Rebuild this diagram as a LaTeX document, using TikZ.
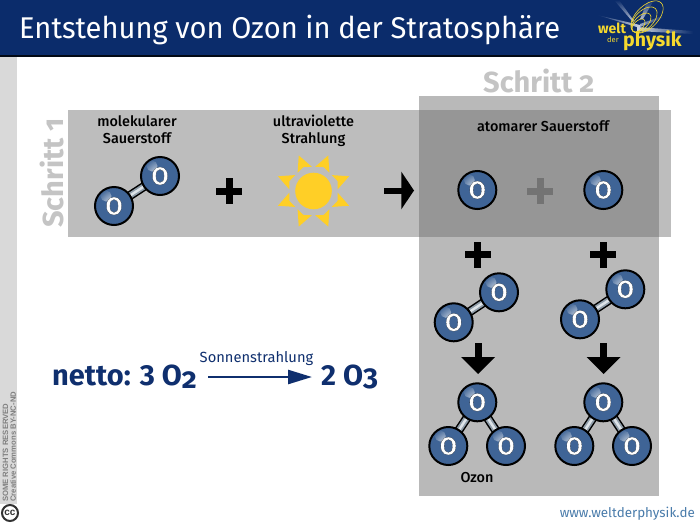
\documentclass[tikz,border=0pt]{standalone}
\usepackage{fontspec}
\setmainfont{Fira Sans}
\newfontfamily\medfont{Fira Sans Medium}
\newfontfamily\oldbold[Numbers=OldStyle]{Fira Sans Bold}
\newfontfamily\linebold[Numbers=Lining]{Fira Sans Bold}
\newfontfamily\titlefont[FakeStretch=0.97]{Fira Sans}
\newfontfamily\atomfont[FakeBold=0.3]{Fira Sans Medium}
\newfontfamily\ccfont{Liberation Sans}
\usetikzlibrary{arrows.meta}
\definecolor{navy}{HTML}{0B2C6B}
\definecolor{navytext}{HTML}{0F2F6E}
\definecolor{panelA}{HTML}{BDBDBD}
\definecolor{panelB}{HTML}{B9B9B9}
\definecolor{overlap}{HTML}{969696}
\definecolor{steptext}{HTML}{C4C4C4}
\definecolor{atomblue}{HTML}{3F6496}
\definecolor{sunyellow}{HTML}{FFCF26}
\definecolor{logoyellow}{HTML}{F5D92E}
\definecolor{footblue}{HTML}{4A7CAB}
\definecolor{bondgrey}{HTML}{8E9CA8}
\definecolor{bondlight}{HTML}{DDE3E8}
\pgfdeclarelayer{panel}
\pgfdeclarelayer{bond}
\pgfsetlayers{panel,bond,main}
\newcommand{\oxy}{{\color{white}\special{pdf:code 0 0 0 RG}O}}
\tikzset{
  atom/.style={circle,draw=black,line width=2pt,fill=atomblue,minimum size=38pt,inner sep=0pt,
    font=\atomfont\fontsize{25}{25}\selectfont,
    path picture={
      \shade[inner color=white,outer color=atomblue,opacity=.95] ([xshift=-8pt,yshift=10pt]path picture bounding box.center) circle (5.5pt);}},
  bondouter/.style={draw=black,line width=9pt},
  bondinner/.style={draw=bondgrey,line width=6pt},
  bondshine/.style={draw=bondlight,line width=2.5pt},
  lbl/.style={align=center,inner sep=0pt,text=black,font=\medfont\fontsize{14.4}{17}\selectfont},
  ray/.style={fill=sunyellow},
  logot/.style={text=logoyellow,inner sep=0pt,anchor=base west},
  stepstyle/.style={inner sep=0pt,text=steptext,font=\oldbold\fontsize{29}{29}\selectfont},
  eqstyle/.style={anchor=base west,inner sep=0pt,text=navytext,font=\linebold\fontsize{29}{29}\selectfont},
  ccstyle/.style={rotate=90,anchor=west,inner sep=0pt,text=black!50,font=\ccfont\bfseries\fontsize{7.7}{8}\selectfont}
}
\newcommand{\bondline}[2]{\begin{pgfonlayer}{bond}
  \path[bondouter] (#1.center) -- (#2.center);
  \path[bondinner] (#1.center) -- (#2.center);
  \path[bondshine] (#1.center) -- (#2.center);
\end{pgfonlayer}}
\newcommand{\plussign}[3][black]{\fill[#1] (#2-13,#3-3.5) rectangle (#2+13,#3+3.5);\fill[#1] (#2-3.5,#3-13) rectangle (#2+3.5,#3+13);}
\newcommand{\downarr}[2]{\fill[black] (#1-3.5,#2) rectangle (#1+3.5,#2+16);\fill[black] (#1-17,#2+14) -- (#1+17,#2+14) -- (#1,#2+31) -- cycle;}
\begin{document}
\begin{tikzpicture}[x=1pt,y=-1pt]
\useasboundingbox (0,0) rectangle (700,525);
\begin{pgfonlayer}{panel}
\fill[white] (0,0) rectangle (700,525);
\fill[navy] (0,0) rectangle (700,55);
\fill[black!80!navy] (0,54.5) rectangle (700,56.5);
\fill[black!15] (0,57) rectangle (17,504);
\fill[panelA] (68,110) rectangle (671,237);
\fill[panelB] (419,96) rectangle (659,496);
\fill[overlap] (419,110) rectangle (659,237);
\end{pgfonlayer}

% header
\node[anchor=base west,inner sep=0pt,text=white,font=\titlefont\fontsize{30}{30}\selectfont] (title) at (19,38) {Entstehung von Ozon in der Stratosphäre};

% logo
\shade[left color=navy,right color=white!80!navy] (597,15) -- (640,25) -- (640,28) -- cycle;
\shade[top color=navy,bottom color=white!70!navy] (614,0) -- (619,0) -- (634,21) -- (632,21) -- cycle;
\shade[top color=navy,bottom color=white!70!navy] (648,0) -- (654,0) -- (643,19) -- (640,19) -- cycle;
\shade[left color=white!80!navy,right color=navy] (637,27) -- (693,31) -- (693,34) -- (637,31) -- cycle;
\shade[left color=white!60!navy,right color=navy] (640,24) -- (662,16) -- (663,18) -- (640,27) -- cycle;
\begin{scope}[logoyellow,line width=.6pt,rotate around={45:(647,17)}]
\draw (647,17) ellipse (20 and 11);
\draw (643,17) ellipse (16 and 9);
\draw (639,17) ellipse (12 and 6.5);
\draw (635,17) ellipse (8 and 4.5);
\end{scope}
\node[logot,font=\bfseries\fontsize{14}{14}\selectfont] (lw) at (598,33) {welt};
\node[logot,font=\fontsize{7.5}{8}\selectfont] (ld) at (607,42) {der};
\node[logot,font=\bfseries\fontsize{19.5}{20}\selectfont] (lp) at (623,46.7) {physik};

% side strip
\node[ccstyle] (cc1) at (5.5,502) {SOME RIGHTS RESERVED};
\node[ccstyle] (cc2) at (13,502) {Creative Commons BY-NC-ND};
\node[circle,draw=black!80,line width=2pt,fill=white,minimum size=16pt,inner sep=0pt,text=black!80,font=\ccfont\bfseries\fontsize{10}{10}\selectfont] (cc) at (10,513) {cc};

% step labels
\node[anchor=base west,stepstyle] (s2) at (483,92) {Schritt 2};
\node[rotate=90,anchor=base west,stepstyle] (s1) at (63,228) {Schritt 1};

% labels
\node[lbl] (l1) at (137,130) {molekularer\\Sauerstoff};
\node[lbl] (l2) at (313.5,131) {ultraviolette\\Strahlung};
\node[lbl] (l3) at (543,126) {atomarer Sauerstoff};
\node[lbl] (l4) at (477,478) {Ozon};

% molecule step 1
\node[atom] (a1) at (114,206) {\oxy};
\node[atom] (a2) at (160,176) {\oxy};
\bondline{a1}{a2}

% plus, sun, arrow
\plussign{229}{191}
\fill[sunyellow] (313.5,191) circle (18.3);
\foreach \ang in {22.5,67.5,...,337.5}{
  \fill[ray,rotate around={\ang:(313.5,191)}] (336.5,183.3) -- (352,191) -- (336.5,198.7) -- (339.5,191) -- cycle;
}
\fill[black] (384,187.5) rectangle (404,193.5);
\fill[black] (401.3,171.7) -- (414,190.5) -- (401.3,209.3) -- cycle;

% free atoms
\node[atom] (a3) at (477.3,190) {\oxy};
\plussign[black!55]{540}{191}
\node[atom] (a4) at (603.3,190) {\oxy};

% plus
\plussign{477.7}{254.7}
\plussign{603}{254.7}

% O2 pair
\node[atom] (a5) at (453.7,322.3) {\oxy};
\node[atom] (a6) at (499,292.3) {\oxy};
\bondline{a5}{a6}
\node[atom] (a7) at (580,319.3) {\oxy};
\node[atom] (a8) at (625.3,289.3) {\oxy};
\bondline{a7}{a8}

% arrows down
\downarr{478}{343}
\downarr{603.5}{343}

% ozone
\node[atom] (o1) at (477.3,402.3) {\oxy};
\node[atom] (o2) at (448.3,446) {\oxy};
\node[atom] (o3) at (506,446) {\oxy};
\bondline{o1}{o2}\bondline{o1}{o3}
\node[atom] (o4) at (603.3,402.3) {\oxy};
\node[atom] (o5) at (574.3,446) {\oxy};
\node[atom] (o6) at (632,446) {\oxy};
\bondline{o4}{o5}\bondline{o4}{o6}

% equation
\node[eqstyle] (n1) at (52,385) {netto: 3 O\raisebox{-3pt}{\oldbold 2}};
\node[eqstyle] (n2) at (321,385) {2 O{\oldbold 3}};
\node[anchor=base,inner sep=0pt,text=navytext,font=\fontsize{14.7}{16}\selectfont] (sn) at (256.5,362.5) {Sonnenstrahlung};
\coordinate (ea) at (208,377);
\coordinate (eb) at (312,377);
\draw[navytext,line width=2.5pt,-{Triangle[length=24pt,width=14pt]}] (ea) -- (eb);

% footer
\node[anchor=base east,inner sep=0pt,text=footblue,font=\fontsize{13.4}{15}\selectfont] (web) at (695,517) {www.weltderphysik.de};
\end{tikzpicture}
\end{document}
